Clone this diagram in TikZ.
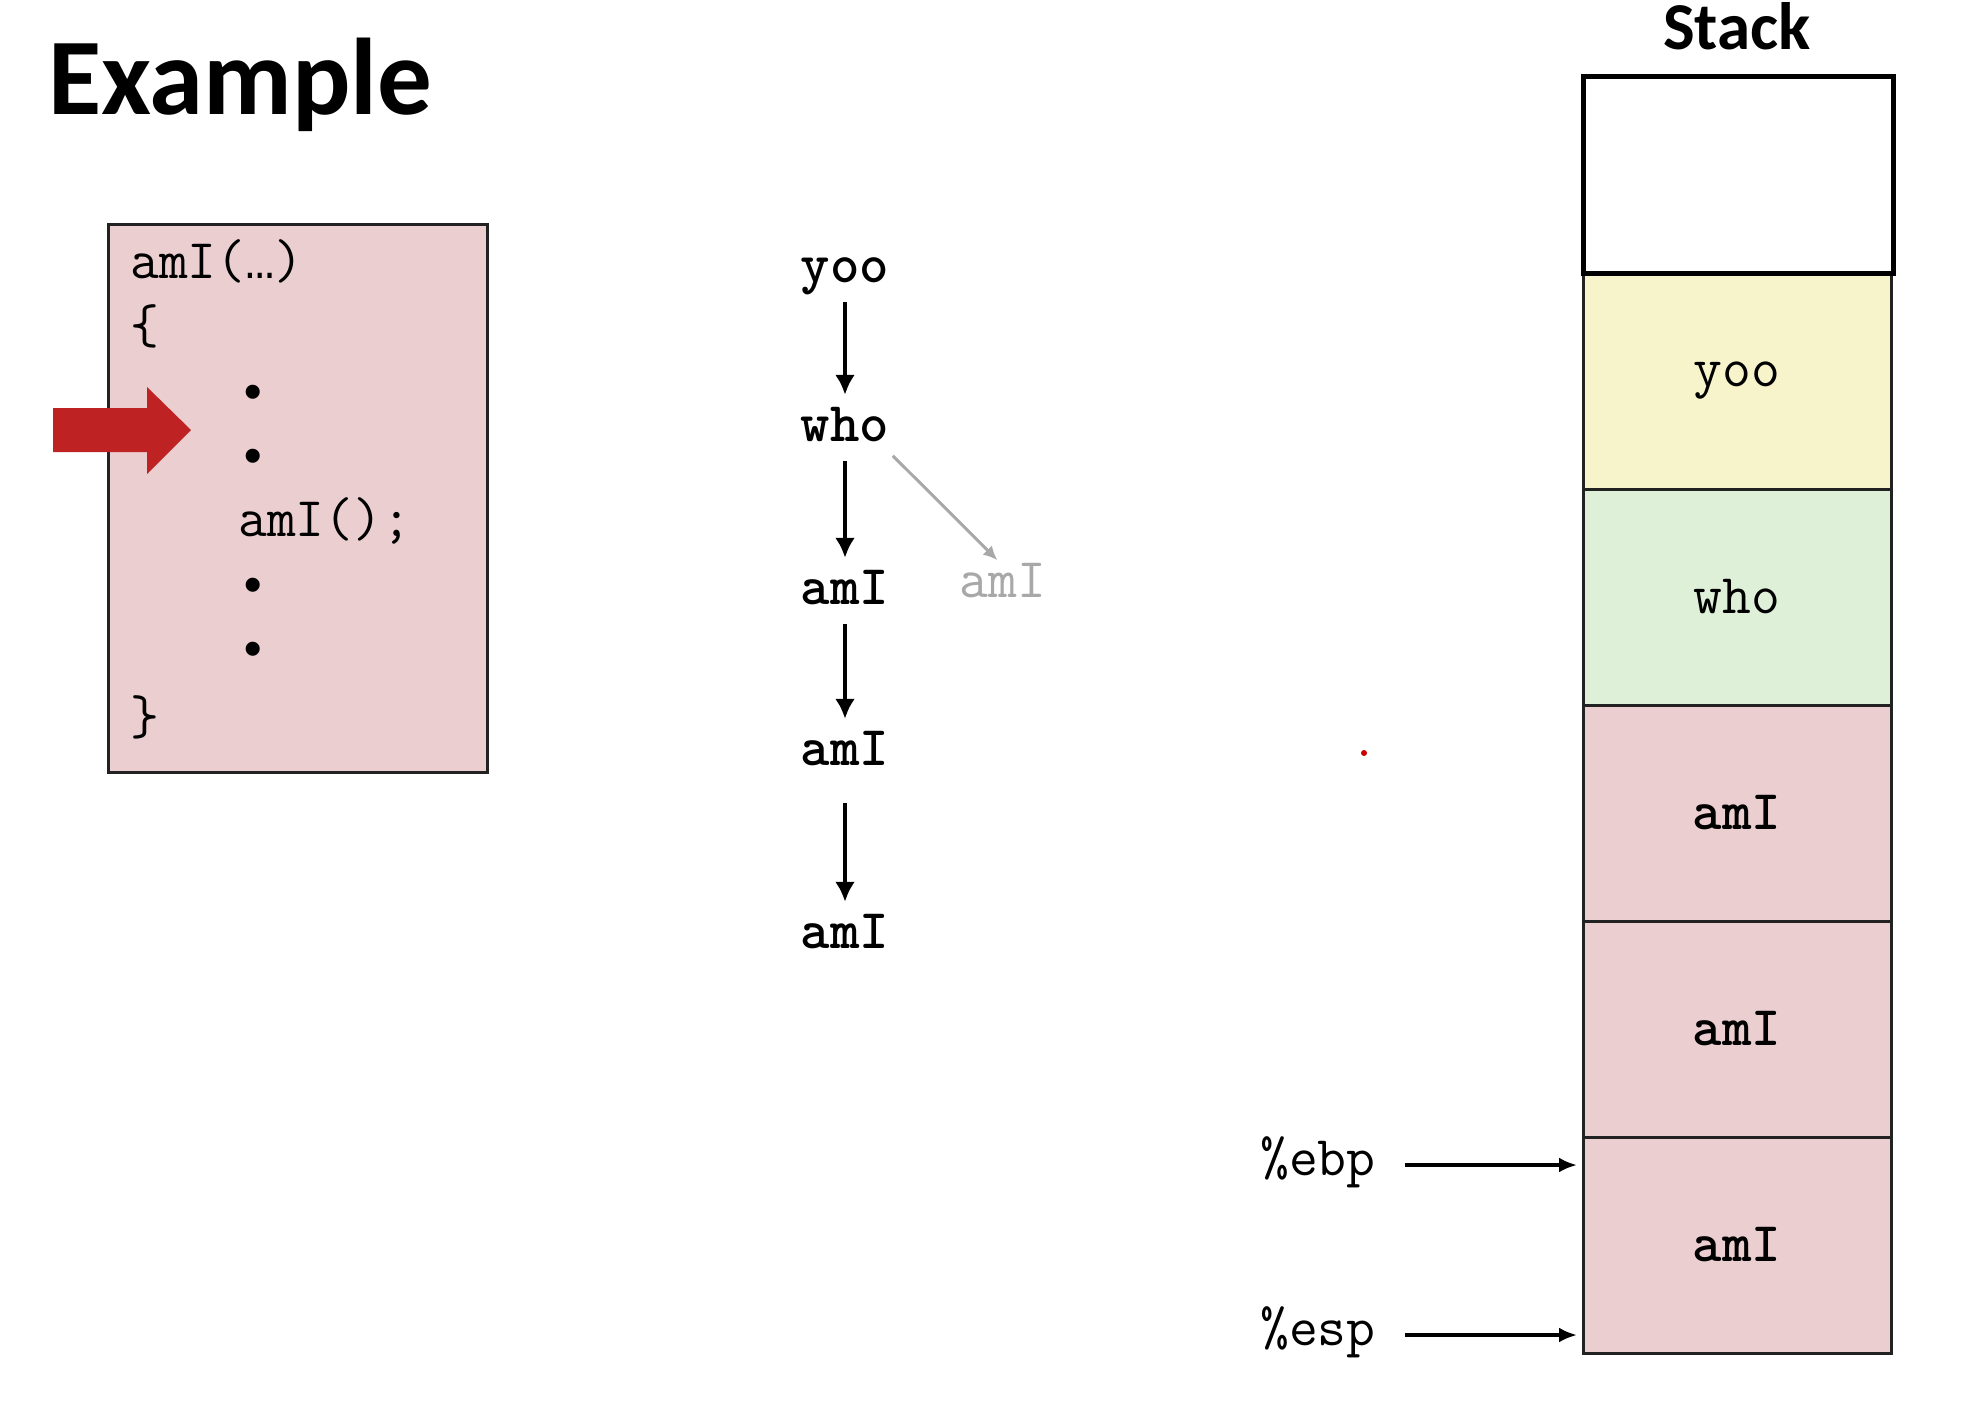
\documentclass[tikz,border=0pt]{standalone}
\usepackage{fontspec}
\newfontfamily\calfont{Carlito}
\newfontfamily\monof{Liberation Mono}
\newcommand\lmm{\ttfamily\fontsize{56}{66}\selectfont}
\newcommand\libm{\monof\fontsize{49}{58}\selectfont}
\usetikzlibrary{arrows.meta}
\definecolor{pinkc}{HTML}{EBCFD0}
\definecolor{yelc}{HTML}{F7F4CC}
\definecolor{grnc}{HTML}{DFF0D8}
\definecolor{redar}{HTML}{BE2222}
\definecolor{grayar}{HTML}{A8A8A8}
\definecolor{bord}{HTML}{222222}
\begin{document}
\begin{tikzpicture}[x=1pt,y=-1pt,
  mono/.style={font=\lmm, inner sep=0pt, text height=31pt, text depth=11pt},
  monob/.style={mono, font=\lmm\bfseries},
  codetxt/.style={mono, anchor=base west},
  bul/.style={font=\libm\bfseries, inner sep=0pt},
  treetxt/.style={monob, anchor=base},
  treearrow/.style={line width=4pt, draw=black, -{Latex[length=20pt,width=20pt]}, shorten >=15pt, shorten <=9pt},
  grayarrow/.style={line width=3pt, draw=grayar, -{Latex[length=14pt,width=13pt]}, shorten >=8pt, shorten <=5pt},
  ptr/.style={line width=4pt, draw=black, -{Latex[length=18pt,width=15pt]}},
  cell/.style={draw=bord, line width=3pt, minimum width=308pt, minimum height=216pt, inner sep=0pt},
]
\fill[white] (0,0) rectangle (1968,1418);
\useasboundingbox (0,0) rectangle (1968,1418);

% title
\node[font=\calfont\bfseries\fontsize{109}{130}\selectfont, anchor=base west, inner sep=0pt] (ex) at (48,115) {Example};

% code box
\node[draw=bord, fill=pinkc, line width=3pt, minimum width=379pt, minimum height=548pt, inner sep=0pt] (code) at (297.5,498) {};
\node[codetxt] (l1) at (130,278) {amI({\libm …})};
\node[codetxt] (l2) at (130,343) {\{};
\node[bul] (b1) at (253,397) {•};
\node[bul] (b2) at (253,461) {•};
\node[codetxt] (l5) at (238,536) {amI();};
\node[bul] (b3) at (253,590) {•};
\node[bul] (b4) at (253,654) {•};
\node[codetxt] (l8) at (130,734) {\}};

% red pointer
\fill[redar] (53,408) -- (147,408) -- (147,387) -- (191,430) -- (147,474) -- (147,452) -- (53,452) -- cycle;

% call tree
\node[treetxt] (yoo) at (845,282) {yoo};
\node[treetxt] (who) at (845,441) {who};
\node[treetxt] (a1) at (845,604) {amI};
\node[treetxt] (a2) at (845,765) {amI};
\node[treetxt] (a3) at (845,948) {amI};
\node[mono, text=grayar, anchor=base] (ga) at (1003,597) {amI};
\draw[treearrow] (yoo.south) -- (who.north);
\draw[treearrow] (who.south) -- (a1.north);
\draw[treearrow] (a1.south) -- (a2.north);
\draw[treearrow, shorten <=27pt] (a2.south) -- (a3.north);
\draw[grayarrow] (who.south east) -- (ga.north);

% laser dot
\fill[red!80!black] (1364,753) circle (3);

% stack
\node[font=\calfont\bfseries\fontsize{67}{80}\selectfont, anchor=base, inner sep=0pt] (stk) at (1737,50) {Stack};
\node[cell, fill=yelc, font=\lmm] (c1) at (1737,381) {yoo};
\node[cell, fill=grnc, font=\lmm] (c2) at (1737,597) {who};
\node[cell, fill=pinkc, font=\lmm\bfseries] (c3) at (1737,813) {amI};
\node[cell, fill=pinkc, font=\lmm\bfseries] (c4) at (1737,1029) {amI};
\node[cell, fill=pinkc, font=\lmm\bfseries] (c5) at (1737,1245) {amI};
\node[draw=black, fill=white, line width=5pt, minimum width=310pt, minimum height=196pt, inner sep=0pt] (c0) at (1738,175) {};

% pointers
\node[mono, anchor=base west] (ebp) at (1260,1175) {\%ebp};
\node[mono, anchor=base west] (esp) at (1260,1345) {\%esp};
\coordinate (ebpT) at (1577,1165);
\coordinate (espT) at (1577,1335);
\draw[ptr, shorten <=29pt] (ebp.east) -- (ebpT);
\draw[ptr, shorten <=29pt] (esp.east) -- (espT);
\end{tikzpicture}
\end{document}
